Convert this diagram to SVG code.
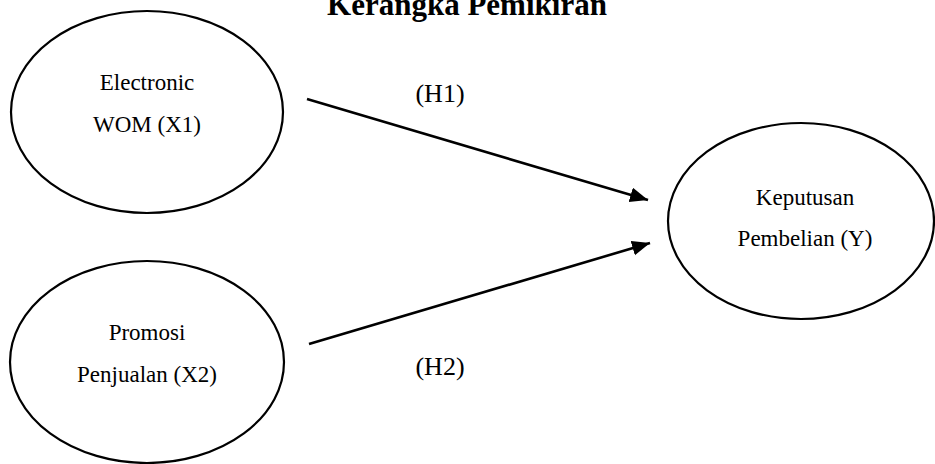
<svg xmlns="http://www.w3.org/2000/svg" width="935" height="464" viewBox="0 0 935 464">
<style>
.node ellipse{fill:#fff;stroke:#000;stroke-width:2.2}
.t{font-family:"Liberation Serif","Times New Roman",serif;font-size:23px;fill:#000;text-anchor:middle}
.h{font-family:"Liberation Serif","Times New Roman",serif;font-size:26px;fill:#000;text-anchor:middle}
.title{font-family:"Liberation Serif","Times New Roman",serif;font-size:31px;font-weight:bold;fill:#000;text-anchor:middle}
.conn line{stroke:#000;stroke-width:2.6}
</style>
<defs>
<marker id="arr" markerUnits="userSpaceOnUse" markerWidth="20" markerHeight="16" refX="18" refY="7.5" orient="auto">
<path d="M0,0 L18,7.5 L0,15 Z" fill="#000"/>
</marker>
</defs>
<rect width="935" height="464" fill="#fff"/>
<text class="title" x="467" y="15">Kerangka Pemikiran</text>
<g id="x1" class="node">
<ellipse cx="147" cy="112" rx="136" ry="101"/>
<text class="t" x="147" y="90">Electronic</text>
<text class="t" x="147" y="132">WOM (X1)</text>
</g>
<g id="x2" class="node">
<ellipse cx="147" cy="362" rx="137" ry="101"/>
<text class="t" x="147" y="340">Promosi</text>
<text class="t" x="147" y="382">Penjualan (X2)</text>
</g>
<g id="y" class="node">
<ellipse cx="801" cy="221" rx="133" ry="98"/>
<text class="t" x="805" y="205">Keputusan</text>
<text class="t" x="805" y="246">Pembelian (Y)</text>
</g>
<g id="connectors" class="conn">
<line x1="307" y1="99" x2="648" y2="200" marker-end="url(#arr)"/>
<line x1="309" y1="344" x2="650" y2="243" marker-end="url(#arr)"/>
</g>
<text class="h" x="440" y="102">(H1)</text>
<text class="h" x="440" y="375">(H2)</text>
</svg>
